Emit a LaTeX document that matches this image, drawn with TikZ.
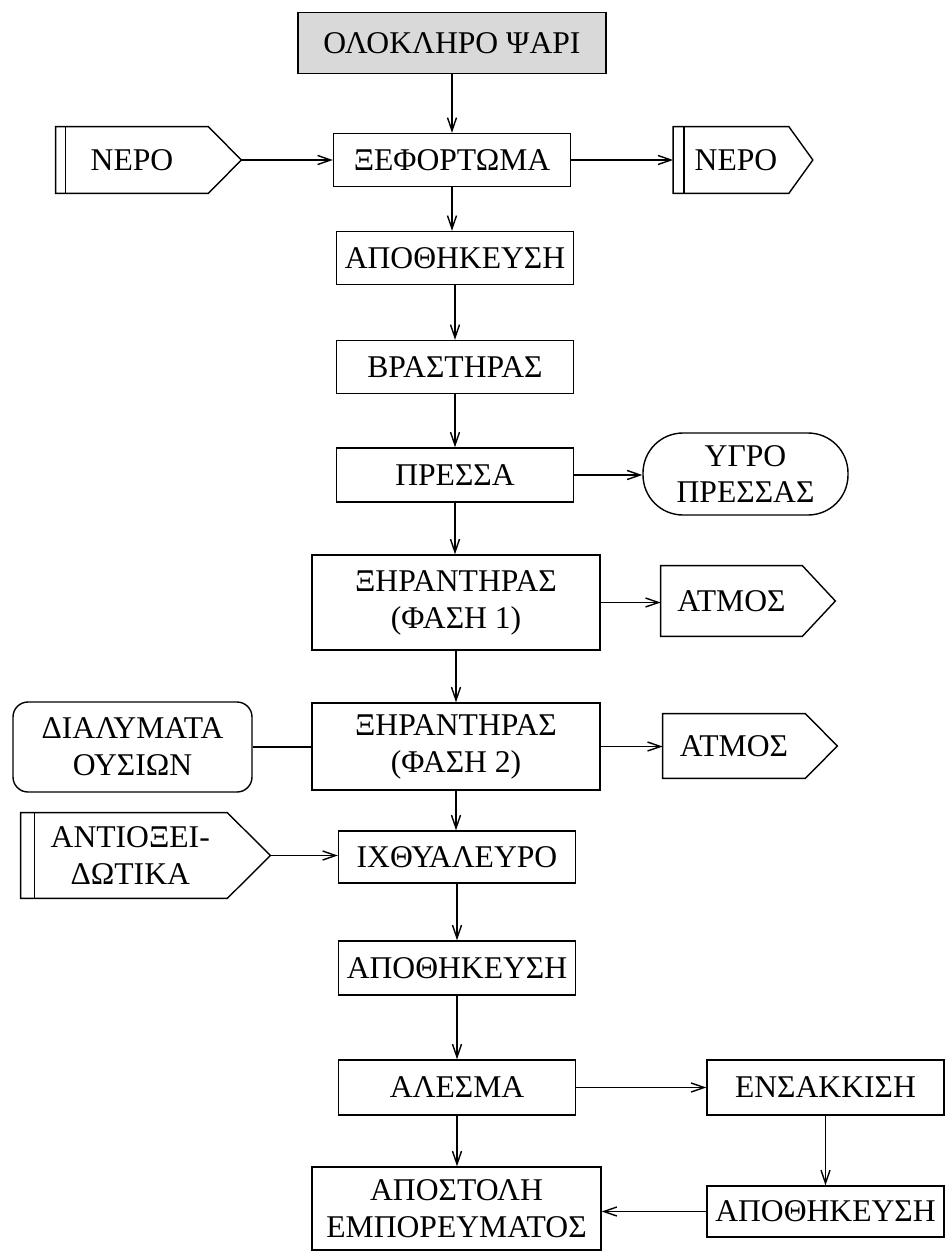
\documentclass[tikz,border=0pt]{standalone}
\usepackage{fontspec}
\setmainfont{Liberation Serif}
\usepackage{tikz}
\usetikzlibrary{arrows.meta}
\usetikzlibrary{positioning}
\tikzstyle{arrow} = [line width=0.8pt,-{Straight Barb[length=2.6mm,width=1.8mm]}]
\tikzstyle{link} = [line width=0.8pt]
% outline of an arrow-shaped tag with a double bar on its left side
\newcommand{\tagoutline}[3]{%
  \draw[line width=0.8pt] (#1.north west) -- (#1.north east) -- ([xshift=#2]#1.east) coordinate (#1tip)
    -- (#1.south east) -- (#1.south west) -- cycle;
  \draw[line width=0.8pt] ([xshift=#3]#1.north west) -- ([xshift=#3]#1.south west);}

\begin{document}
\begin{tikzpicture}[
font=\fontsize{18}{21}\selectfont,
procbox/.style={rectangle, draw, line width=0.8pt, align=center, inner sep=2pt, minimum width=4.74cm, minimum height=1.06cm},
widebox/.style={procbox, minimum width=5.76cm},
startbox/.style={procbox, fill=black!15, minimum width=6.16cm, minimum height=1.22cm},
tagnode/.style={rectangle, align=center, inner sep=2pt},
roundbox/.style={rectangle, rounded corners=0.3cm, draw, line width=0.8pt, align=center, minimum width=4.78cm, minimum height=1.8cm},
liquidnode/.style={rectangle, rounded corners=0.8cm, draw, line width=0.8pt, align=center, minimum width=4.10cm, minimum height=1.64cm},
]
\useasboundingbox (0,0) rectangle (18.92,-25.08);
%Nodes
\node[startbox]   (fish)     at (9.04,-0.86)  {ΟΛΟΚΛΗΡΟ ΨΑΡΙ};
\node[procbox]    (unload)   at (9.04,-3.20)  {ΞΕΦΟΡΤΩΜΑ};
\node[tagnode, minimum width=3.04cm, minimum height=1.32cm] (win)  at (2.64,-3.20) {ΝΕΡΟ};
\node[tagnode, minimum width=2.30cm, minimum height=1.32cm] (wout) at (14.62,-3.20) {\hspace{0.2cm}ΝΕΡΟ};
\node[procbox]    (store1)   at (9.10,-5.16)  {ΑΠΟΘΗΚΕΥΣΗ};
\node[procbox]    (cooker)   at (9.10,-7.34)  {ΒΡΑΣΤΗΡΑΣ};
\node[procbox, minimum height=1.08cm] (press) at (9.10,-9.50) {ΠΡΕΣΣΑ};
\node[liquidnode] (liquor)   at (14.91,-9.48) {ΥΓΡΟ\\ΠΡΕΣΣΑΣ};
\node[widebox, minimum height=1.90cm] (dryer1) at (9.12,-12.05) {ΞΗΡΑΝΤΗΡΑΣ\\(ΦΑΣΗ 1)};
\node[tagnode, minimum width=2.82cm, minimum height=1.40cm] (steam1) at (14.63,-12.02) {ΑΤΜΟΣ};
\node[widebox, minimum height=1.74cm] (dryer2) at (9.12,-14.93) {ΞΗΡΑΝΤΗΡΑΣ\\(ΦΑΣΗ 2)};
\node[roundbox]   (solubles) at (2.65,-14.94) {ΔΙΑΛΥΜΑΤΑ\\ΟΥΣΙΩΝ};
\node[tagnode, minimum width=2.84cm, minimum height=1.28cm] (steam2) at (14.68,-14.92) {ΑΤΜΟΣ};
\node[tagnode, minimum width=4.12cm, minimum height=1.70cm] (antiox) at (2.48,-17.11) {\hspace{0.25cm}ΑΝΤΙΟΞΕΙ-\\\hspace{0.25cm}ΔΩΤΙΚΑ};
\node[procbox, minimum height=1.04cm] (meal) at (9.14,-17.14) {ΙΧΘΥΑΛΕΥΡΟ};
\node[procbox, minimum height=1.08cm] (store2) at (9.14,-19.36) {ΑΠΟΘΗΚΕΥΣΗ};
\node[procbox, minimum height=1.10cm] (mill)   at (9.14,-21.75) {ΑΛΕΣΜΑ};
\node[procbox, minimum height=1.10cm] (bagging) at (16.51,-21.75) {ΕΝΣΑΚΚΙΣΗ};
\node[widebox, minimum width=5.78cm, minimum height=1.66cm] (dispatch) at (9.13,-24.17) {ΑΠΟΣΤΟΛΗ\\ΕΜΠΟΡΕΥΜΑΤΟΣ};
\node[procbox, minimum height=1.02cm] (store3) at (16.51,-24.23) {ΑΠΟΘΗΚΕΥΣΗ};

\tagoutline{win}{0.66cm}{0.2cm}
\tagoutline{wout}{0.48cm}{0.22cm}
\tagoutline{steam1}{0.66cm}{0pt}
\tagoutline{steam2}{0.64cm}{0pt}
\tagoutline{antiox}{0.86cm}{0.28cm}

%Lines
\draw[arrow] (fish.south) -- (fish.south |- unload.north);
\draw[arrow] (wintip) -- (unload.west);
\draw[arrow] (unload.east) -- (wout.west);
\draw[arrow] (unload.south) -- (unload.south |- store1.north);
\draw[arrow] (store1.south) -- (cooker.north);
\draw[arrow] (cooker.south) -- (press.north);
\draw[arrow] (press.east) -- (press.east -| liquor.west);
\draw[arrow] (press.south) -- (press.south |- dryer1.north);
\draw[arrow] (dryer1.east) -- (dryer1.east -| steam1.west);
\draw[arrow] (dryer1.south) -- (dryer1.south |- dryer2.north);
\draw[link]  (solubles.east) -- (solubles.east -| dryer2.west);
\draw[arrow] (dryer2.east) -- (dryer2.east -| steam2.west);
\draw[arrow] (dryer2.south) -- (dryer2.south |- meal.north);
\draw[arrow] (antiox.east) ++(0.86cm,0) -- (antiox.east -| meal.west);
\draw[arrow] (meal.south) -- (store2.north);
\draw[arrow] (store2.south) -- (mill.north);
\draw[arrow] (mill.east) -- (bagging.west);
\draw[arrow] (mill.south) -- (mill.south |- dispatch.north);
\draw[arrow] (bagging.south) -- (bagging.south |- store3.north);
\draw[arrow] (store3.west) -- (store3.west -| dispatch.east);

\end{tikzpicture}
\end{document}
